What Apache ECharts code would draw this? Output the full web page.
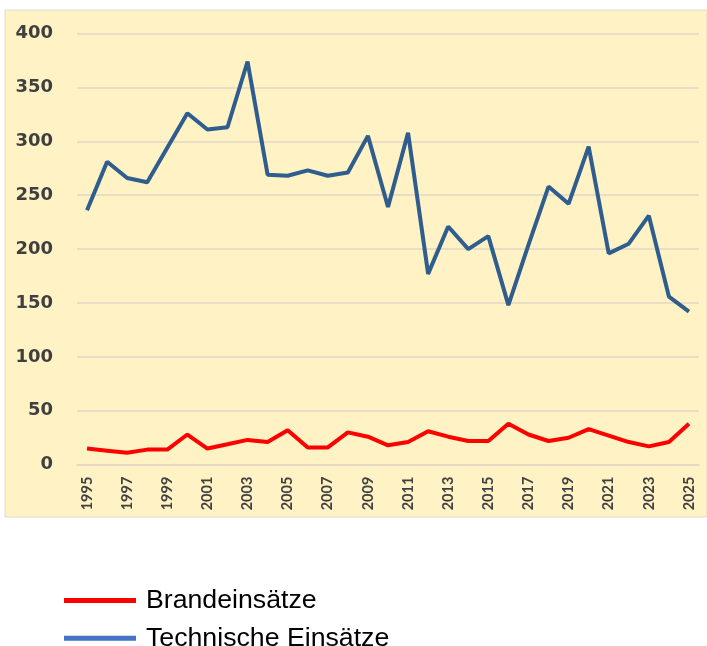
<!DOCTYPE html>
<html>
<head>
<meta charset="utf-8">
<script src="https://cdn.jsdelivr.net/npm/echarts@6/dist/echarts.min.js"></script>
<style>html,body{margin:0;padding:0;background:#fff}#c{width:707px;height:646px}</style>
</head>
<body>
<div id="c"></div>
<script>
const years = ['1995','1996','1997','1998','1999','2000','2001','2002','2003','2004','2005','2006','2007','2008','2009','2010','2011','2012','2013','2014','2015','2016','2017','2018','2019','2020','2021','2022','2023','2024','2025'];
const brandeinsaetze = [15,13,11,14,14,28,15,19,23,21,32,16,16,30,26,18,21,31,26,22,22,38,28,22,25,33,27,21,17,21,38];
const technischeEinsaetze = [236,281,266,262,294,326,311,313,374,269,268,273,268,271,305,239,308,177,221,200,212,148,204,258,242,295,196,205,231,156,142];
const yTicks = { min: 0, max: 400, interval: 50 };
const seriesNames = ['Brandeinsätze', 'Technische Einsätze'];
const legendColors = ['#FF0000', '#4472C4'];

const legendBase = {
  orient: 'vertical', left: 64, padding: 0,
  itemWidth: 72, itemHeight: 5,
  textStyle: { fontFamily: 'Liberation Sans', fontSize: 26.7, lineHeight: 26, color: '#000', padding: [0, 0, 0, 5] }
};

const chart = echarts.init(document.getElementById('c'));
chart.setOption({
  animation: false,
  backgroundColor: '#ffffff',
  graphic: [{
    type: 'rect', z: -10, silent: true,
    shape: { x: 5, y: 10, width: 702, height: 507 },
    style: { fill: '#FFF2C4', stroke: '#E2DCCB', lineWidth: 1 }
  }],
  grid: { left: 77, right: 8, top: 33.5, bottom: 181.3, containLabel: false },
  xAxis: {
    type: 'category',
    data: years,
    boundaryGap: true,
    axisLine: { show: true, lineStyle: { color: '#E3D6C6', width: 1.5 } },
    axisTick: { show: false },
    axisLabel: {
      interval: 1, rotate: 90, margin: 12,
      fontFamily: 'Lato', fontWeight: 'bold', fontSize: 14.5, color: '#404040'
    }
  },
  yAxis: {
    type: 'value',
    min: yTicks.min, max: yTicks.max, interval: yTicks.interval,
    axisLine: { show: false },
    axisTick: { show: false },
    splitLine: { lineStyle: { color: '#E3D6C6', width: 1.5 } },
    axisLabel: {
      margin: 24, fontFamily: 'DejaVu Sans', fontWeight: 'bold', fontSize: 18, color: '#3F3F3F'
    }
  },
  legend: [
    Object.assign({}, legendBase, { top: 587, data: [{ name: seriesNames[0], icon: 'rect', itemStyle: { color: legendColors[0] } }] }),
    Object.assign({}, legendBase, { top: 624.7, data: [{ name: seriesNames[1], icon: 'rect', itemStyle: { color: legendColors[1] } }] })
  ],
  series: [
    {
      name: seriesNames[0], type: 'line', data: brandeinsaetze,
      symbol: 'none', lineStyle: { color: '#FF0000', width: 4 }, itemStyle: { color: '#FF0000' }
    },
    {
      name: seriesNames[1], type: 'line', data: technischeEinsaetze,
      symbol: 'none', lineStyle: { color: '#2E5D8E', width: 4 }, itemStyle: { color: '#2E5D8E' }
    }
  ]
});
</script>
</body>
</html>
